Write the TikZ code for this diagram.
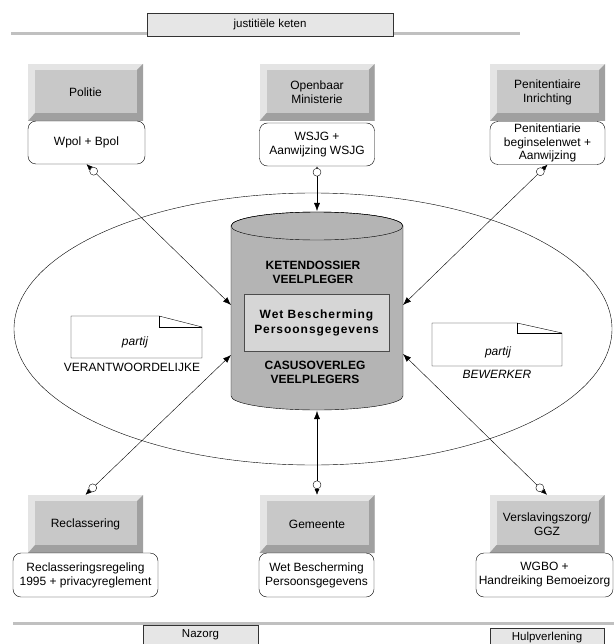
\documentclass[tikz,border=0pt]{standalone}
\usepackage{fontspec}
\setmainfont{Liberation Sans}
\usetikzlibrary{arrows.meta,calc,positioning}

\definecolor{bandgray}{HTML}{C0C0C0}
\definecolor{tabgray}{HTML}{E6E6E6}
\definecolor{bvlight}{HTML}{E4E4E4}
\definecolor{bvface}{HTML}{C8C8C8}
\definecolor{bvdark}{HTML}{A0A0A0}
\definecolor{vatgray}{HTML}{B4B4B4}
\definecolor{wbpgray}{HTML}{D6D6D6}

\tikzset{
  band/.style={bandgray, line width=3pt},
  tab/.style={draw=black!80, fill=tabgray, inner sep=0pt, minimum height=23pt,
    font=\fontsize{11.5}{13}\selectfont},
  organ/.style={fill=bvlight, minimum width=115pt, minimum height=57pt, inner sep=2pt,
    align=center, font=\fontsize{12}{14}\selectfont,
    path picture={
      \fill[bvdark] (path picture bounding box.south west) -- (path picture bounding box.south east)
        -- (path picture bounding box.north east) -- ([xshift=-6pt,yshift=-6pt]path picture bounding box.north east)
        -- ([xshift=-6pt,yshift=8pt]path picture bounding box.south east)
        -- ([xshift=7pt,yshift=8pt]path picture bounding box.south west) -- cycle;
      \fill[bvface] ([xshift=7pt,yshift=-6pt]path picture bounding box.north west)
        rectangle ([xshift=-6pt,yshift=8pt]path picture bounding box.south east);
    }},
  wet/.style={draw, thin, rounded corners=8pt, fill=white, align=center, minimum width=115pt,
    minimum height=43pt, inner sep=0pt, font=\fontsize{12}{14}\selectfont},
  link/.style={thin, {Latex[length=6pt,width=5pt]}-{Latex[length=8pt,width=6pt]}},
  lolly/.style={circle, draw, thin, fill=white, inner sep=0pt, minimum size=8pt},
  doc/.style={draw, thin, fill=white},
  vatlabel/.style={align=center, font=\bfseries\fontsize{12}{14}\selectfont},
  wbp/.style={draw=black!70, fill=wbpgray, minimum width=145pt, minimum height=57pt, inner sep=0pt,
    align=center, font=\bfseries\fontsize{12}{15}\selectfont\addfontfeatures{LetterSpace=8}}
}

\begin{document}
\begin{tikzpicture}[x=1pt,y=-1pt]
\useasboundingbox (0,0) rectangle (614,644);

% ketens
\draw[band] (11,34) -- (520,34);
\node[tab, minimum width=246pt] at (270,24.5) (jk) {justitiële keten};
\draw[band] (13,623.5) -- (614,623.5);
\node[tab, minimum width=115pt, minimum height=20pt] at (200.5,635) (naz) {Nazorg};
\node[tab, minimum width=114pt, minimum height=20pt] at (547,638) (hulp) {Hulpverlening};

% casusoverleg
\draw[thin] (313,329) ellipse [x radius=299, y radius=136];

% ketendossier
\filldraw[fill=vatgray, thin] (231,226) -- (231,396)
  arc[start angle=180, end angle=0, x radius=86, y radius=14] -- (403,226)
  arc[start angle=0, end angle=-180, x radius=86, y radius=14] -- cycle;
\draw[thin] (317,226) ellipse [x radius=86, y radius=14];
\node[vatlabel] at (313,272) (kd) {KETENDOSSIER\\VEELPLEGER};
\node[wbp] at (316.5,322.5) (wbp) {Wet Bescherming\\Persoonsgegevens};
\node[vatlabel] at (315,372) (co) {CASUSOVERLEG\\VEELPLEGERS};

\coordinate (kN) at (317,211);
\coordinate (kS) at (317,411);
\coordinate (kNW) at (231,305);
\coordinate (kSW) at (231,355);
\coordinate (kNE) at (403,305);
\coordinate (kSE) at (403,354);

% partijen
\draw[doc] (71,316) -- (159,316) -- (202,327) -- (202,358) -- (71,358) -- cycle;
\draw[thin] (159,316) -- (159,327) -- (202,327);
\node[font=\itshape\fontsize{12}{14}\selectfont] at (135,342) (p1) {partij};
\node[font=\fontsize{12}{14}\selectfont] at (132,367) (vw) {VERANTWOORDELIJKE};
\draw[doc] (432,323) -- (517,323) -- (562,333) -- (562,366) -- (432,366) -- cycle;
\draw[thin] (517,323) -- (517,333) -- (562,333);
\node[font=\itshape\fontsize{12}{14}\selectfont] at (498,352) (p2) {partij};
\node[font=\itshape\fontsize{12}{14}\selectfont] at (497,374) (bw) {BEWERKER};

% ketenpartners boven
\node[organ] at (85.5,92.5) (pol) {Politie};
\node[organ] at (317,92.5) (om) {Openbaar\\Ministerie};
\node[organ] at (547.5,92.5) (pi) {Penitentiaire\\Inrichting};
\node[wet, minimum width=117pt] at (86.5,142.5) (polwet) {Wpol + Bpol};
\node[wet] at (317,144.5) (omwet) {WSJG +\\Aanwijzing WSJG};
\node[wet, font=\fontsize{12}{13.5}\selectfont] at (547.5,143) (piwet) {Penitentiarie\\beginselenwet +\\Aanwijzing};

% ketenpartners onder
\node[organ, minimum height=58pt] at (85.5,524) (recl) {Reclassering};
\node[organ, minimum height=58pt] at (317,524) (gem) {Gemeente};
\node[organ, minimum height=58pt] at (547,524) (vers) {Verslavingszorg/\\GGZ};
\node[wet, minimum width=145pt, minimum height=44pt] at (85.5,575) (reclwet) {Reclasseringsregeling\\1995 + privacyreglement};
\node[wet, minimum height=44pt] at (316.5,575) (gemwet) {Wet Bescherming\\Persoonsgegevens};
\node[wet, minimum width=137pt, minimum height=44pt] at (544.5,575) (verswet) {WGBO +\\Handreiking Bemoeizorg};

% koppelingen
\draw[link] (polwet.south) -- (kNW);
\draw[link] (omwet.south) -- (kN);
\draw[link] (piwet.south) -- (kNE);
\draw[link] (recl.north) -- (kSW);
\draw[link] (gem.north) -- (kS);
\draw[link] (vers.north) -- (kSE);
\node[lolly] at ($(polwet.south)!10pt!(kNW)$) (l1) {};
\node[lolly] at ($(omwet.south)!6pt!(kN)$) (l2) {};
\node[lolly] at ($(piwet.south)!10pt!(kNE)$) (l3) {};
\node[lolly] at ($(recl.north)!10pt!(kSW)$) (l4) {};
\node[lolly] at ($(gem.north)!10pt!(kS)$) (l5) {};
\node[lolly] at ($(vers.north)!10pt!(kSE)$) (l6) {};
\end{tikzpicture}
\end{document}
